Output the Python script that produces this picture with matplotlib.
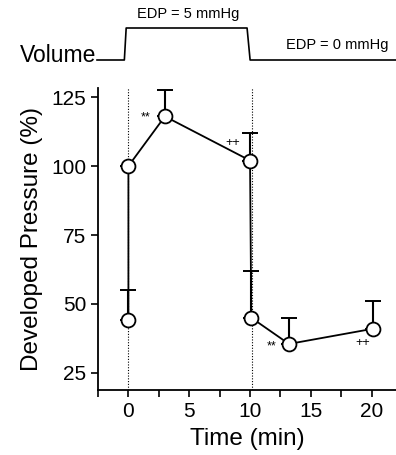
import numpy as np
import matplotlib.pyplot as plt

plt.rcParams['font.family'] = ['Liberation Sans', 'DejaVu Sans']

# data
time = [0, 0, 3, 10, 10.1, 13.2, 20.1]
pressure = [44, 100, 118, 102, 45, 35.5, 41]
err_up = [11, 0, 9.5, 10, 17, 9.5, 10]

vol_time = [-2.55, -0.3, -0.15, 9.8, 10.05, 22.1]
vol_level = [0, 0, 1, 1, 0, 0]

marks = [("**", 1.4, 117.5), ("++", 8.6, 108.5), ("**", 11.8, 34.5), ("++", 19.3, 36)]

W, H = 396, 455
fig = plt.figure(figsize=(W / 100, H / 100), dpi=100)

# main axes
ax = fig.add_axes([98 / W, 1 - 390 / H, 298 / W, 302 / H])
ax.plot(time, pressure, color='black', lw=1.3, zorder=3)
ax.errorbar(time, pressure, yerr=[np.zeros(len(err_up)), err_up], fmt='none',
            ecolor='black', elinewidth=1.5, capsize=6, capthick=1.4, zorder=2)
ax.plot(time, pressure, 'o', ms=10, mfc='white', mec='black', mew=1.3, zorder=4)
for x in (0, 10.2):
    ax.axvline(x, color='black', lw=0.8, ls=(0, (1, 1.5)), zorder=1)
for s, x, y in marks:
    ax.text(x, y, s, fontsize=9, ha='center', va='center')

ax.set_xlim(-2.5, 22)
ax.set_ylim(18.8, 128.3)
ax.set_xticks([0, 5, 10, 15, 20])
ax.set_xticks([-2.5, 2.5, 7.5, 12.5, 17.5], minor=True)
ax.set_yticks([25, 50, 75, 100, 125])
for sp in ('top', 'right'):
    ax.spines[sp].set_visible(False)
ax.spines['left'].set_linewidth(1.3)
ax.spines['bottom'].set_linewidth(1.3)
ax.tick_params(which='both', direction='out', width=1.2, labelsize=15)
ax.tick_params(which='major', length=5)
ax.tick_params(which='minor', length=5)
ax.set_xlabel('Time (min)', fontsize=17.5, labelpad=5)
ax.set_ylabel('Developed Pressure (%)', fontsize=17.5, labelpad=6)

# volume trace on top
top = fig.add_axes([0, 1 - 70 / H, 1, 50 / H])
top.plot(vol_time, vol_level, color='black', lw=1.2)
top.set_xlim(-128 / 12.15, 268 / 12.15)
top.set_ylim(-0.3125, 1.25)
top.axis('off')

fig.text(96 / W, 1 - 55 / H, 'Volume', fontsize=16.5, ha='right', va='center')
fig.text(188 / W, 1 - 14 / H, 'EDP = 5 mmHg', fontsize=10.5, ha='center', va='center')
fig.text(337 / W, 1 - 45 / H, 'EDP = 0 mmHg', fontsize=10.5, ha='center', va='center')

fig.savefig('out.png', dpi=100)
